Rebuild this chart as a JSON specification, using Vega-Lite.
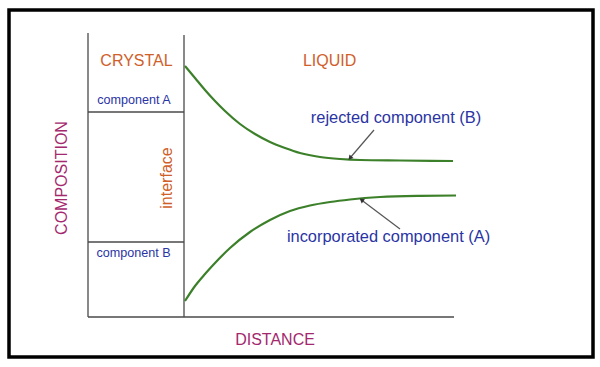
{
  "$schema": "https://vega.github.io/schema/vega-lite/v6.json",
  "width": 600,
  "height": 367,
  "autosize": {"type": "fit", "contains": "padding"},
  "padding": {"left": 9, "top": 10, "right": 7, "bottom": 10},
  "background": "white",
  "config": {"view": {"stroke": "black", "strokeWidth": 3.5}},
  "datasets": {
    "frame": [
      {"seg": "yaxis", "d": -96, "c": 0, "d2": -96, "c2": 284},
      {"seg": "interface", "d": 0, "c": 0, "d2": 0, "c2": 282},
      {"seg": "xaxis", "d": -96, "c": 0, "d2": 270, "c2": 0},
      {"seg": "sepA", "d": -96, "c": 205, "d2": 0, "c2": 205},
      {"seg": "sepB", "d": -96, "c": 75, "d2": 0, "c2": 75}
    ],
    "curves": [
      {"component": "rejected (B)", "d": 1, "c": 251},
      {"component": "rejected (B)", "d": 11, "c": 239},
      {"component": "rejected (B)", "d": 21, "c": 227},
      {"component": "rejected (B)", "d": 31, "c": 216},
      {"component": "rejected (B)", "d": 41, "c": 206},
      {"component": "rejected (B)", "d": 56, "c": 193},
      {"component": "rejected (B)", "d": 71, "c": 183},
      {"component": "rejected (B)", "d": 86, "c": 175},
      {"component": "rejected (B)", "d": 101, "c": 169},
      {"component": "rejected (B)", "d": 116, "c": 164},
      {"component": "rejected (B)", "d": 136, "c": 160},
      {"component": "rejected (B)", "d": 156, "c": 158},
      {"component": "rejected (B)", "d": 176, "c": 157},
      {"component": "rejected (B)", "d": 216, "c": 156.5},
      {"component": "rejected (B)", "d": 269, "c": 156},
      {"component": "incorporated (A)", "d": 1, "c": 16},
      {"component": "incorporated (A)", "d": 11, "c": 31},
      {"component": "incorporated (A)", "d": 21, "c": 43},
      {"component": "incorporated (A)", "d": 31, "c": 54},
      {"component": "incorporated (A)", "d": 46, "c": 69},
      {"component": "incorporated (A)", "d": 66, "c": 85},
      {"component": "incorporated (A)", "d": 86, "c": 97},
      {"component": "incorporated (A)", "d": 106, "c": 106},
      {"component": "incorporated (A)", "d": 126, "c": 111.5},
      {"component": "incorporated (A)", "d": 146, "c": 115},
      {"component": "incorporated (A)", "d": 166, "c": 117.5},
      {"component": "incorporated (A)", "d": 196, "c": 120},
      {"component": "incorporated (A)", "d": 236, "c": 121.2},
      {"component": "incorporated (A)", "d": 272, "c": 121.5}
    ],
    "labels": [
      {"text": "CRYSTAL", "d": -47.5, "c": 256, "kind": "region"},
      {"text": "LIQUID", "d": 145.6, "c": 256, "kind": "region"},
      {"text": "component A", "d": -50, "c": 217, "kind": "small"},
      {"text": "component B", "d": -50.5, "c": 64.5, "kind": "small"},
      {"text": "rejected component (B)", "d": 212, "c": 198.7, "kind": "curve"},
      {"text": "incorporated component (A)", "d": 204.5, "c": 80.3, "kind": "curve"},
      {"text": "DISTANCE", "d": 91, "c": -23, "kind": "axis"}
    ],
    "vlabels": [
      {"text": "interface", "d": -16.7, "c": 139, "kind": "region"},
      {"text": "COMPOSITION", "d": -121.7, "c": 139, "kind": "axis"}
    ],
    "arrows": [
      {"target": "rejected (B)", "d": 190, "c": 187, "d2": 166, "c2": 159},
      {"target": "incorporated (A)", "d": 216, "c": 88, "d2": 177.5, "c2": 117}
    ]
  },
  "layer": [
    {
      "data": {"name": "frame"},
      "mark": {"type": "rule", "color": "#4a4a4a", "strokeWidth": 1.3},
      "encoding": {
        "x": {"field": "d", "type": "quantitative", "scale": {"domain": [-175, 409], "nice": false, "zero": false}, "axis": null},
        "y": {"field": "c", "type": "quantitative", "scale": {"domain": [-40, 307], "nice": false, "zero": false}, "axis": null},
        "x2": {"field": "d2"},
        "y2": {"field": "c2"}
      }
    },
    {
      "data": {"name": "curves"},
      "mark": {"type": "line", "color": "#3c802a", "strokeWidth": 2.2, "interpolate": "monotone"},
      "encoding": {
        "x": {"field": "d", "type": "quantitative"},
        "y": {"field": "c", "type": "quantitative"},
        "detail": {"field": "component"}
      }
    },
    {
      "data": {"name": "arrows"},
      "mark": {"type": "rule", "color": "#555555", "strokeWidth": 1.2},
      "encoding": {
        "x": {"field": "d", "type": "quantitative"},
        "y": {"field": "c", "type": "quantitative"},
        "x2": {"field": "d2"},
        "y2": {"field": "c2"}
      }
    },
    {
      "data": {"name": "arrows"},
      "transform": [{"filter": "datum.target === 'rejected (B)'"}],
      "mark": {"type": "point", "shape": "triangle-up", "filled": true, "color": "#333333", "size": 28, "angle": 220, "opacity": 1},
      "encoding": {
        "x": {"field": "d2", "type": "quantitative"},
        "y": {"field": "c2", "type": "quantitative"}
      }
    },
    {
      "data": {"name": "arrows"},
      "transform": [{"filter": "datum.target === 'incorporated (A)'"}],
      "mark": {"type": "point", "shape": "triangle-up", "filled": true, "color": "#333333", "size": 28, "angle": 307, "opacity": 1},
      "encoding": {
        "x": {"field": "d2", "type": "quantitative"},
        "y": {"field": "c2", "type": "quantitative"}
      }
    },
    {
      "data": {"name": "labels"},
      "transform": [{"filter": "datum.kind === 'region'"}],
      "mark": {"type": "text", "font": "Liberation Sans", "align": "center", "baseline": "middle", "fontSize": 16, "color": "#d0602a"},
      "encoding": {
        "x": {"field": "d", "type": "quantitative"},
        "y": {"field": "c", "type": "quantitative"},
        "text": {"field": "text"}
      }
    },
    {
      "data": {"name": "labels"},
      "transform": [{"filter": "datum.kind === 'small'"}],
      "mark": {"type": "text", "font": "Liberation Sans", "align": "center", "baseline": "middle", "fontSize": 12.6, "color": "#2a34a4"},
      "encoding": {
        "x": {"field": "d", "type": "quantitative"},
        "y": {"field": "c", "type": "quantitative"},
        "text": {"field": "text"}
      }
    },
    {
      "data": {"name": "labels"},
      "transform": [{"filter": "datum.kind === 'curve'"}],
      "mark": {"type": "text", "font": "Liberation Sans", "align": "center", "baseline": "middle", "fontSize": 16.4, "color": "#2a34a4"},
      "encoding": {
        "x": {"field": "d", "type": "quantitative"},
        "y": {"field": "c", "type": "quantitative"},
        "text": {"field": "text"}
      }
    },
    {
      "data": {"name": "labels"},
      "transform": [{"filter": "datum.kind === 'axis'"}],
      "mark": {"type": "text", "font": "Liberation Sans", "align": "center", "baseline": "middle", "fontSize": 16, "color": "#a3286e"},
      "encoding": {
        "x": {"field": "d", "type": "quantitative"},
        "y": {"field": "c", "type": "quantitative"},
        "text": {"field": "text"}
      }
    },
    {
      "data": {"name": "vlabels"},
      "transform": [{"filter": "datum.kind === 'region'"}],
      "mark": {"type": "text", "font": "Liberation Sans", "align": "center", "baseline": "middle", "angle": 270, "fontSize": 16, "color": "#d0602a"},
      "encoding": {
        "x": {"field": "d", "type": "quantitative"},
        "y": {"field": "c", "type": "quantitative"},
        "text": {"field": "text"}
      }
    },
    {
      "data": {"name": "vlabels"},
      "transform": [{"filter": "datum.kind === 'axis'"}],
      "mark": {"type": "text", "font": "Liberation Sans", "align": "center", "baseline": "middle", "angle": 270, "fontSize": 16, "color": "#a3286e"},
      "encoding": {
        "x": {"field": "d", "type": "quantitative"},
        "y": {"field": "c", "type": "quantitative"},
        "text": {"field": "text"}
      }
    }
  ]
}
